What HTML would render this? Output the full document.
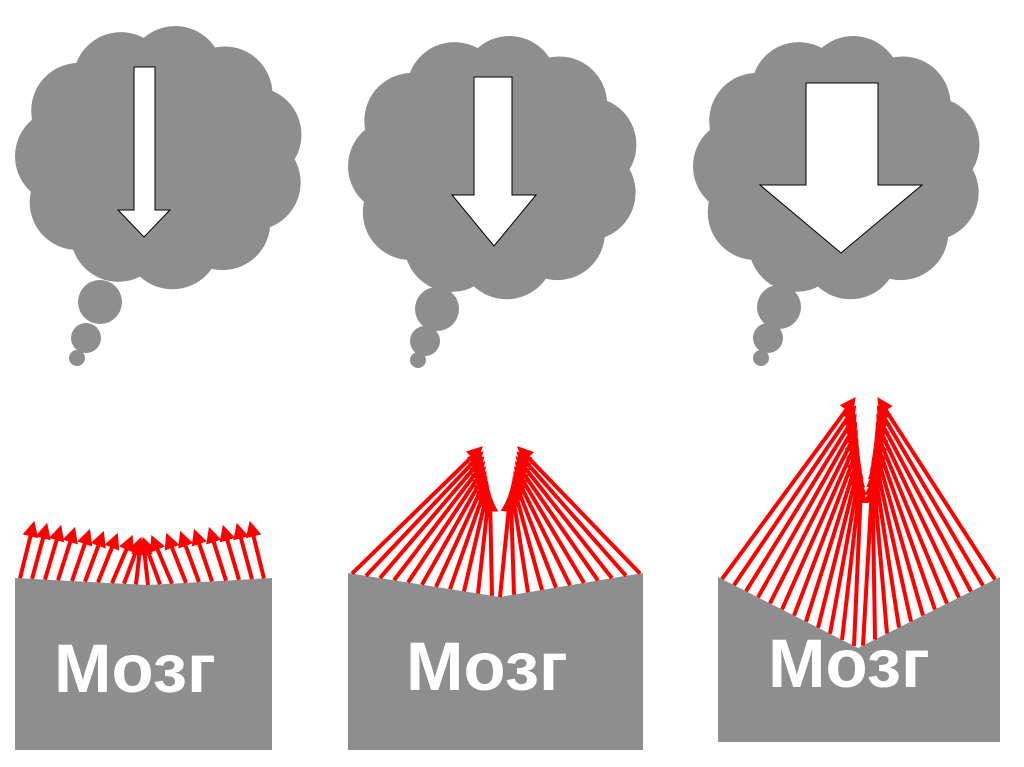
<!DOCTYPE html>
<html><head><meta charset="utf-8"><style>
html,body{margin:0;padding:0;background:#fff;width:1024px;height:767px;overflow:hidden}
svg{display:block}
text{font-family:"Liberation Sans",sans-serif;font-weight:bold;fill:#fff}
</style></head><body>
<svg id="s" width="1024" height="767" viewBox="0 0 1024 767" xmlns="http://www.w3.org/2000/svg">
<defs>
<marker id="ah" markerWidth="4" markerHeight="4" refX="2.2" refY="2" orient="auto" markerUnits="strokeWidth">
<path d="M0,0 L4,2 L0,4 Z" fill="#ff0000"/></marker>
</defs>
<g id="clouds" fill="#8e8e8e"></g>
<polygon points="134,67 155,67 155,210 170,210 144,237 118,210 134,210" fill="#fff" stroke="#000" stroke-width="1"/>
<polygon points="474,77 512,77 512,195 536,195 494,246 452,195 474,195" fill="#fff" stroke="#000" stroke-width="1"/>
<polygon points="806,83 878,83 878,185 922,185 841,253 760,185 806,185" fill="#fff" stroke="#000" stroke-width="1"/>
<polygon points="15,578 148,585 272,578 272,750 15,750" fill="#8e8e8e"/>
<polygon points="348,573 500,597 643,573 643,750 348,750" fill="#8e8e8e"/>
<polygon points="718,577 858,648 1000,577 1000,742 718,742" fill="#8e8e8e"/>
<g id="arrows" stroke="#ff0000" stroke-width="4" fill="none"></g>
<text x="54" y="692" font-size="69">Мозг</text>
<text x="406" y="690" font-size="69">Мозг</text>
<text x="768" y="687" font-size="69">Мозг</text>
</svg>
<script>
var NS="http://www.w3.org/2000/svg";
var cg=document.getElementById('clouds');
function c(x,y,r){var e=document.createElementNS(NS,'circle');e.setAttribute('cx',x);e.setAttribute('cy',y);e.setAttribute('r',r);cg.appendChild(e);}
function e(x,y,rx,ry){var el=document.createElementNS(NS,'ellipse');el.setAttribute('cx',x);el.setAttribute('cy',y);el.setAttribute('rx',rx);el.setAttribute('ry',ry);cg.appendChild(el);}
function cloud(x0,y0,x1,y1){
 var cx=(x0+x1)/2,cy=(y0+y1)/2,w=(x1-x0)/2,h=(y1-y0)/2;
 e(cx,cy,w*0.82,h*0.8);
 var n=11;
 for(var i=0;i<n;i++){var a=i/n*2*Math.PI+0.3;var r=Math.min(w,h)*0.36;
  c(cx+(w-r)*Math.cos(a),cy+(h-r)*Math.sin(a),r);}
}
cloud(15,25,305,290);c(100,302,22);c(86,338,15);c(77,358,8);
cloud(348,35,640,300);c(437,309,22);c(425,341,15);c(418,360,8);
cloud(693,35,983,300);c(779,307,22);c(768,338,15);c(761,358,8);
var ag=document.getElementById('arrows');
function ln(x1,y1,x2,y2){var l=document.createElementNS(NS,'line');l.setAttribute('x1',x1);l.setAttribute('y1',y1);
 var dx=x2-x1,dy=y2-y1,L=Math.sqrt(dx*dx+dy*dy),k=(L-6)/L;
 l.setAttribute('x2',x1+dx*k);l.setAttribute('y2',y1+dy*k);l.setAttribute('marker-end','url(#ah)');ag.appendChild(l);}
function topY(x,xl,yl,xm,ym,xr,yr){return x<xm? yl+(ym-yl)*(x-xl)/(xm-xl) : ym+(yr-ym)*(x-xm)/(xr-xm);}
// panel 1
var p1=[20,32,45,58,72,85,98,112,124,136];
p1.forEach(function(x,i){var t=i/9;var tx=Math.min(x+14+t*8,141);var ty=522+t*18;
 ln(x,topY(x,15,578,148,585,272,578),tx,ty);
 var xr=288-x-4, txr=284-tx;
 ln(xr,topY(xr,15,578,148,585,272,578),txr,ty);});
// panel 2
for(var i=0;i<11;i++){var t=i/10;var x=352+t*140;var tx=482+t*8, ty=447+t*50;
 ln(x,topY(x,348,573,500,597,643,573),tx,ty);
 var xr=992-x;ln(xr,topY(xr,348,573,500,597,643,573),1000-tx,ty);}
// panel 3
for(var i=0;i<12;i++){var t=i/11;var x=722+t*132;var tx=855+t*6, ty=398+t*90;
 ln(x,topY(x,718,577,858,648,1000,577),tx,ty);
 var xr=1717-x;ln(xr,topY(xr,718,577,858,648,1000,577),1733-tx,ty);}
</script>
</body></html>
